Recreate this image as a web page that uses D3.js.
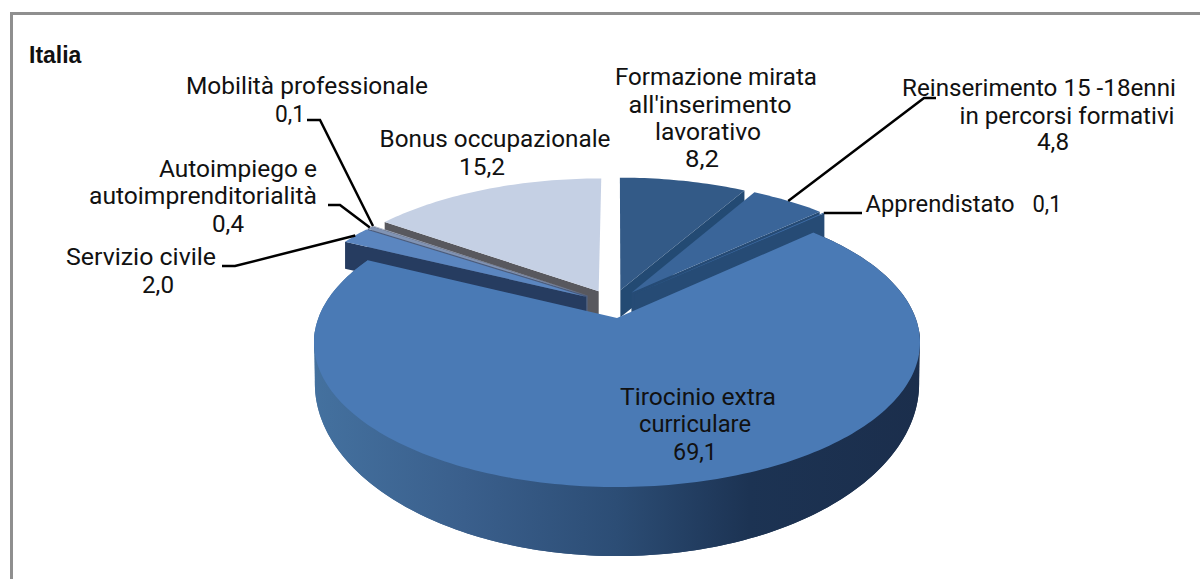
<!DOCTYPE html>
<html lang="it">
  <head>
    <meta charset="UTF-8" />
    <title>Italia</title>
    <style>
      html, body { margin: 0; padding: 0; background: #fff; overflow: hidden; }
      text { font-family: Roboto, sans-serif; font-size: 23px; fill: #111; }
    </style>
  </head>
  <body>
    <script src="https://cdn.jsdelivr.net/npm/d3@7"></script>
    <script>
    // data, clockwise from 12 o'clock
    var categories = ["Formazione mirata all'inserimento lavorativo", "Reinserimento 15 -18enni in percorsi formativi", "Apprendistato", "Tirocinio extra curriculare", "Servizio civile", "Autoimpiego e autoimprenditorialità", "Mobilità professionale", "Bonus occupazionale"];
    var values = [8.2, 4.8, 0.1, 69.1, 2.0, 0.4, 0.1, 15.2];
    var chartTitle = "Italia";

    var w = 1200, h = 579;

    var topColors  = ["#335a87", "#3a6599", "#3f6ea8", "#4a7ab5", "#5b86c0", "#8093b4", "#a3aec4", "#c5d0e4"];
    var wallColors = ["#234a73", "#264b75", "#264b75", "#2f5078", "#263c60", "#4b5c7c", "#5f6678", "#58585e"];

    // lines of each label: [text, x, baseline, width]
    var labelLayout = [
      [["Formazione mirata", 716, 85, 202], ["all'inserimento", 710, 113, 163], ["lavorativo", 708, 140, 106], [null, 702, 167, 34]],
      [["Reinserimento 15 -18enni", 1039, 96, 274], ["in percorsi formativi", 1067, 124, 215], [null, 1053, 150, 32]],
      [["Apprendistato", 940, 212, 149], [null, 1047, 212, 29]],
      [["Tirocinio extra", 698, 405, 156], ["curriculare", 695, 432, 112], [null, 695, 460, 44]],
      [["Servizio civile", 141, 265, 150], [null, 158, 293, 32]],
      [["Autoimpiego e", 238, 177, 158], ["autoimprenditorialità", 203, 204, 228], [null, 228, 232, 32]],
      [["Mobilità professionale", 307, 94, 242], [null, 290, 122, 30]],
      [["Bonus occupazionale", 495, 147, 231], [null, 482, 175, 46]]
    ];

    // leader lines: start and elbow, the end comes from the slice rim
    var leaders = [
      null,
      [[936, 98], [924, 98]],
      [[862, 213]],
      null,
      [[222, 266], [235, 266]],
      [[328, 205], [340, 205]],
      [[307, 120], [320, 120]],
      null
    ];

    // perspective for the top face and the floor of the pie
    var cx = 617;
    var topPlane = { y0: 318, a: 298.6, b: 140.3, p: 0.17 };
    var floorPlane = { y0: 345, a: 294.5, b: 164, p: 0.223 };
    var explode = 0.105;
    var cutDepth = 27;

    function project(u, v, plane) {
      var k = 1 - plane.p * v;
      return [cx + plane.a * u / k, plane.y0 + plane.b * v / k];
    }

    var svg = d3.select("body").append("svg")
      .attr("width", w)
      .attr("height", h);

    // side of the big slice gets darker to the right
    var grad = svg.append("defs").append("linearGradient")
      .attr("id", "wall")
      .attr("gradientUnits", "userSpaceOnUse")
      .attr("x1", 313).attr("x2", 919).attr("y1", 0).attr("y2", 0);
    grad.append("stop").attr("offset", "0%").attr("stop-color", "#44719f");
    grad.append("stop").attr("offset", "25%").attr("stop-color", "#3a5f8c");
    grad.append("stop").attr("offset", "50%").attr("stop-color", "#2c4d75");
    grad.append("stop").attr("offset", "72%").attr("stop-color", "#1c3353");
    grad.append("stop").attr("offset", "100%").attr("stop-color", "#1b2e4c");

    // frame, only top and left fall inside the picture
    svg.append("rect")
      .attr("x", 11.5).attr("y", 13.5)
      .attr("width", 1300).attr("height", 700)
      .attr("fill", "#fff")
      .attr("stroke", "#8f8f8f")
      .attr("stroke-width", 3);

    var arcs = d3.pie().sort(null).value(function(d) { return d; })(values);
    var bigIndex = values.indexOf(d3.max(values));
    var bigMid = (arcs[bigIndex].startAngle + arcs[bigIndex].endAngle) / 2;

    // slices are moved relative to the big one, which keeps the apex in place
    function offset(d) {
      var mid = (d.startAngle + d.endAngle) / 2;
      return [explode * (Math.sin(mid) - Math.sin(bigMid)), explode * (Math.cos(bigMid) - Math.cos(mid))];
    }

    function rim(d, angle, plane) {
      var o = offset(d);
      return project(Math.sin(angle) + o[0], -Math.cos(angle) + o[1], plane);
    }

    function apex(d, plane) {
      var o = offset(d);
      return project(o[0], o[1], plane);
    }

    function rimPoints(d, plane) {
      var n = Math.max(2, Math.ceil((d.endAngle - d.startAngle) / 0.02));
      return d3.range(n + 1).map(function(i) {
        return rim(d, d.startAngle + (d.endAngle - d.startAngle) * i / n, plane);
      });
    }

    var line = d3.line().curve(d3.curveLinear);

    // back slices first, the big one goes over everything
    var order = [0, 1, 2, 7, 6, 5, 4, 3];

    order.forEach(function(i) {
      var d = arcs[i];
      var g = svg.append("g");

      if (i == bigIndex) {
        // outer side
        var side = rimPoints(d, topPlane).concat(rimPoints(d, floorPlane).reverse());
        g.append("path")
          .attr("d", line(side) + "Z")
          .attr("fill", "url(#wall)");
        // hull of the front part closes the small notch at both ends
        var front = { startAngle: Math.PI * 95 / 180, endAngle: Math.PI * 265 / 180, data: d.data };
        var o = offset(d);
        var hull = d3.polygonHull(d3.range(0, 171).reduce(function(pts, a) {
          var t = (95 + a) * Math.PI / 180;
          pts.push(project(Math.sin(t) + o[0], -Math.cos(t) + o[1], topPlane));
          pts.push(project(Math.sin(t) + o[0], -Math.cos(t) + o[1], floorPlane));
          return pts;
        }, []));
        g.append("path")
          .attr("d", line(hull) + "Z")
          .attr("fill", "url(#wall)");
      } else {
        // cut side, the one that looks at the viewer
        var angle = d.endAngle < Math.PI ? d.endAngle : d.startAngle;
        var rimTop = rim(d, angle, topPlane);
        var apexTop = apex(d, topPlane);
        g.append("path")
          .attr("d", line([apexTop, rimTop, [rimTop[0], rimTop[1] + cutDepth], [apexTop[0], apexTop[1] + cutDepth]]) + "Z")
          .attr("fill", wallColors[i]);
      }

      g.append("path")
        .attr("d", line([apex(d, topPlane)].concat(rimPoints(d, topPlane))) + "Z")
        .attr("fill", topColors[i]);
    });

    // leader lines
    leaders.forEach(function(points, i) {
      if (!points) return;
      var d = arcs[i];
      var end = rim(d, (d.startAngle + d.endAngle) / 2, topPlane);
      svg.append("path")
        .attr("d", line(points.concat([end])))
        .attr("fill", "none")
        .attr("stroke", "#000")
        .attr("stroke-width", 2.5);
    });

    // labels, null stands for the value
    var fmt = function(v) { return v.toFixed(1).replace(".", ","); };
    labelLayout.forEach(function(lines, i) {
      lines.forEach(function(l) {
        svg.append("text")
          .attr("x", l[1])
          .attr("y", l[2])
          .attr("text-anchor", "middle")
          .attr("textLength", l[3])
          .attr("lengthAdjust", "spacingAndGlyphs")
          .text(l[0] === null ? fmt(values[i]) : l[0]);
      });
    });

    svg.append("text")
      .attr("x", 29)
      .attr("y", 63)
      .style("font-family", "'Liberation Sans', Arial, sans-serif")
      .style("font-weight", "bold")
      .style("font-size", "23px")
      .text(chartTitle);
    </script>
  </body>
</html>
